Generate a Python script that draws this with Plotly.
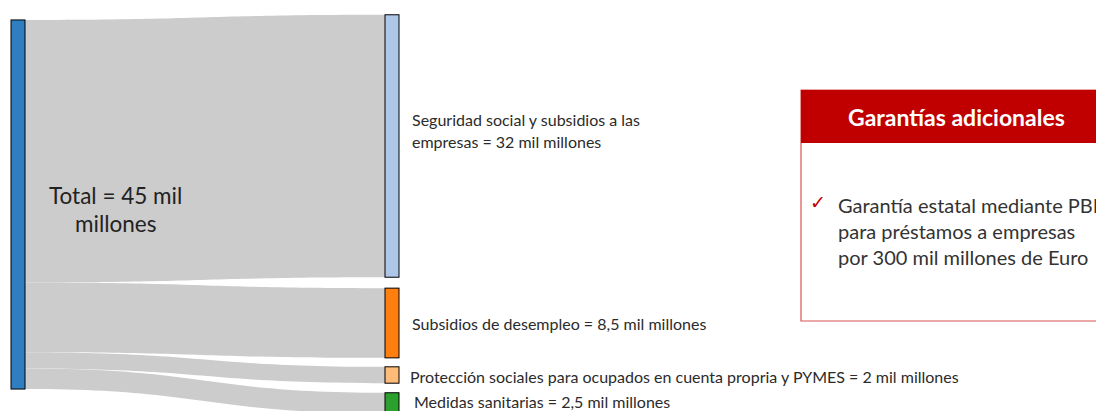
import plotly.graph_objects as go

W, H = 1096, 403
OFF = 8  # page body margin in the screenshot

# ---- data ----
source_label = ["Total = 45 mil", "millones"]
target_labels = [
    ["Seguridad social y subsidios a las", "empresas = 32 mil millones"],
    ["Subsidios de desempleo = 8,5 mil millones"],
    ["Protección sociales para ocupados en cuenta propria y PYMES = 2 mil millones"],
    ["Medidas sanitarias = 2,5 mil millones"],
]
target_values = [32, 8.5, 2, 2.5]
node_colors = ["#2f7fc0", "#aec7e8", "#ff7f0e", "#ffbb78", "#2ca02c"]
node_line_colors = ["#2a70aa", "#8fa6c4", "#d06a10", "#d9a06a", "#258a25"]
box_title = "Garantías adicionales"
box_lines = ["Garantía estatal mediante PBI", "para préstamos a empresas", "por 300 mil millones de Euro"]

# ---- layout helpers (screen pixel -> paper) ----
def px(x):
    return (x - OFF) / W

def py(y):
    return 1 - (y - OFF) / H

# node centre positions (normalized)
node_x = [px(18), px(392), px(392), px(392), px(392)]
node_y = [1 - py(204.5), 1 - py(146), 1 - py(323), 1 - py(375), 1 - py(403)]

fig = go.Figure(go.Sankey(
    arrangement="fixed",
    domain=dict(x=[0, 1], y=[0, 1]),
    node=dict(
        label=[""] * 5,
        pad=11.3,
        thickness=14,
        color=node_colors,
        line=dict(color=node_line_colors, width=1),
        x=node_x,
        y=node_y,
        hoverinfo="none",
    ),
    link=dict(
        source=[0] * len(target_values),
        target=list(range(1, len(target_values) + 1)),
        value=target_values,
        color="rgba(204,204,204,1)",
        hoverinfo="none",
    ),
))

ann = []
font_lbl = dict(family="Lato, sans-serif", size=16, color="#2b2b2b")
# total label
for i, t in enumerate(source_label):
    ann.append(dict(x=px(115), y=py(195 + 29 * i), text=t, showarrow=False,
                    xanchor="center", yanchor="middle",
                    font=dict(family="Lato, sans-serif", size=22.5, color="#222222")))
# target labels
label_pos = [(410, [120, 141]), (410, [323]), (408, [376]), (412, [401])]
for lines, (lx, ys) in zip(target_labels, label_pos):
    for t, yy in zip(lines, ys):
        ann.append(dict(x=px(lx), y=py(yy), text=t, showarrow=False,
                        xanchor="left", yanchor="middle", font=font_lbl))

# box
shapes = [
    dict(type="rect", xref="paper", yref="paper", x0=px(801), x1=px(1140),
         y0=py(321), y1=py(90), line=dict(color="#d9534f", width=1.2),
         fillcolor="white", layer="below"),
    dict(type="rect", xref="paper", yref="paper", x0=px(801), x1=px(1140),
         y0=py(143), y1=py(90), line=dict(width=0), fillcolor="#c00000"),
]
ann.append(dict(x=px(956), y=py(117), text="<b>" + box_title + "</b>", showarrow=False,
                xanchor="center", yanchor="middle",
                font=dict(family="Lato, sans-serif", size=23, color="white")))
ann.append(dict(x=px(818), y=py(202), text="✓", showarrow=False,
                xanchor="center", yanchor="middle",
                font=dict(family="DejaVu Sans", size=19, color="#c00000")))
for i, t in enumerate(box_lines):
    ann.append(dict(x=px(836), y=py(205 + 26 * i), text=t, showarrow=False,
                    xanchor="left", yanchor="middle",
                    font=dict(family="Lato, sans-serif", size=20, color="#333333")))

fig.update_layout(
    width=W, height=H,
    margin=dict(l=0, r=0, t=0, b=0),
    paper_bgcolor="white", plot_bgcolor="white",
    annotations=ann, shapes=shapes,
    showlegend=False,
)
fig.write_html("out.html")
